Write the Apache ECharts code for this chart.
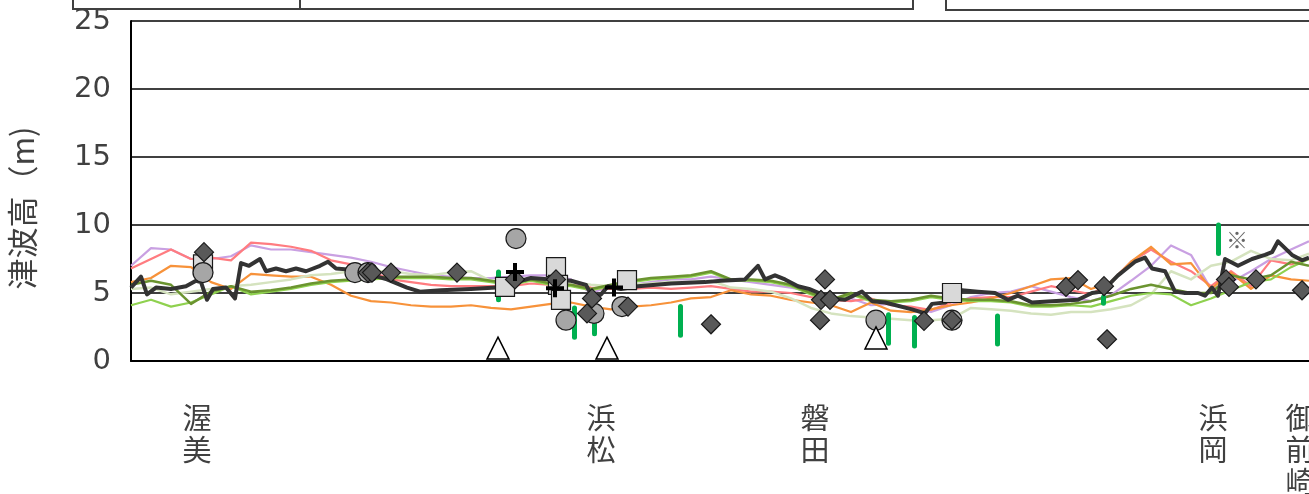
<!DOCTYPE html>
<html>
<head>
<meta charset="utf-8">
<script src="https://cdn.jsdelivr.net/npm/echarts@6/dist/echarts.min.js"></script>
<style>
  html, body { margin: 0; padding: 0; background: #fff; }
  #main { width: 1309px; height: 494px; }
</style>
</head>
<body>
<div id="main"></div>
<script>
  // 沿岸距離（左端からの位置）
  var dist = [0, 20, 40, 60, 80, 100, 120, 140, 160, 180, 200, 220, 240, 260, 280, 300, 320, 340, 360, 380,
    400, 420, 440, 460, 480, 500, 520, 540, 560, 580, 600, 620, 640, 660, 680, 700, 720, 740, 760, 780,
    800, 820, 840, 860, 880, 900, 920, 940, 960, 980, 1000, 1020, 1040, 1060, 1080, 1100, 1120, 1140, 1160, 1178];

  var purple = [7.0, 8.3, 8.2, 7.5, 7.5, 7.7, 8.5, 8.2, 8.2, 8.0, 7.8, 7.6, 7.3, 6.9, 6.6, 6.3, 6.2, 6.1, 6.1, 6.2,
    6.3, 6.3, 6.0, 5.0, 5.5, 5.6, 5.8, 6.0, 6.0, 6.2, 6.0, 5.8, 5.6, 5.4, 5.1, 4.7, 4.6, 4.1, 4.2, 3.9,
    3.6, 4.1, 4.7, 5.0, 5.1, 5.5, 5.1, 4.7, 4.4, 4.85, 5.9, 7.0, 8.5, 7.8, 5.3, 5.8, 6.6, 7.5, 8.2, 8.8];
  var salmon = [6.8, 7.5, 8.2, 7.5, 7.6, 7.4, 8.7, 8.6, 8.4, 8.1, 7.4, 7.1, 6.6, 6.0, 5.8, 5.6, 5.5, 5.5, 5.5, 5.5,
    5.7, 5.6, 5.6, 5.4, 5.3, 5.3, 5.4, 5.3, 5.4, 5.5, 5.3, 5.1, 5.1, 5.0, 4.7, 4.5, 4.4, 4.6, 4.1, 4.0,
    3.75, 4.3, 4.6, 4.7, 4.7, 5.1, 5.5, 5.2, 4.9, 5.8, 7.3, 8.2, 7.3, 6.6, 5.5, 6.6, 5.5, 7.4, 7.1, 7.5];
  var orange = [5.8, 6.1, 7.0, 6.9, 5.8, 5.3, 6.4, 6.3, 6.2, 6.2, 5.6, 4.8, 4.4, 4.3, 4.1, 4.0, 4.0, 4.1, 3.9, 3.8,
    4.0, 4.2, 4.3, 4.0, 3.8, 4.0, 4.1, 4.3, 4.6, 4.7, 5.2, 4.9, 4.8, 4.5, 4.3, 4.1, 3.6, 4.3, 3.7, 3.6,
    3.8, 4.1, 4.3, 4.6, 5.0, 5.5, 6.0, 6.1, 5.3, 5.8, 7.3, 8.4, 7.1, 7.2, 5.3, 6.5, 5.3, 6.3, 6.0, 5.9];
  var sage = [5.3, 5.4, 4.9, 5.1, 5.3, 5.5, 5.6, 5.8, 6.0, 6.3, 6.4, 6.6, 6.6, 6.6, 6.4, 6.3, 6.5, 6.6, 5.9, 5.9,
    5.9, 6.0, 5.8, 5.6, 5.5, 5.6, 5.7, 5.8, 5.8, 5.9, 5.4, 5.3, 5.1, 4.6, 3.9, 3.5, 3.3, 3.2, 3.1, 3.0,
    3.0, 3.1, 3.9, 3.8, 3.7, 3.5, 3.4, 3.6, 3.6, 3.8, 4.1, 4.9, 6.6, 6.0, 7.0, 7.3, 8.1, 7.5, 7.4, 7.9];
  var lime = [4.1, 4.5, 4.0, 4.3, 4.9, 5.5, 4.9, 5.1, 5.3, 5.6, 5.8, 5.9, 6.0, 6.1, 6.1, 6.1, 6.0, 6.0, 5.8, 5.6,
    5.9, 5.6, 5.5, 5.2, 5.5, 5.8, 6.0, 6.1, 6.2, 6.5, 5.9, 5.9, 5.8, 5.5, 4.9, 4.4, 4.9, 4.4, 4.3, 4.4,
    4.7, 4.5, 4.4, 4.4, 4.3, 4.0, 4.0, 4.1, 4.0, 4.4, 4.8, 5.0, 4.9, 4.1, 4.6, 5.2, 5.8, 6.0, 6.9, 7.5];
  var olive = [5.6, 5.9, 5.6, 4.2, 5.1, 5.5, 5.1, 5.2, 5.4, 5.7, 5.9, 6.0, 6.1, 6.2, 6.2, 6.2, 6.1, 6.1, 5.9, 5.7,
    6.0, 5.7, 5.6, 5.3, 5.6, 5.9, 6.1, 6.2, 6.3, 6.6, 6.0, 6.0, 5.9, 5.6, 5.0, 4.5, 5.0, 4.5, 4.4, 4.5,
    4.8, 4.6, 4.5, 4.5, 4.4, 4.1, 4.1, 4.2, 4.4, 4.8, 5.3, 5.6, 5.3, 5.0, 5.0, 6.3, 6.0, 6.3, 7.3, 7.0];

  // 太線（黒）は独自の位置で読み取り
  var blackDist = [0, 10, 16, 25, 40, 55, 65, 70, 76, 82, 95, 104, 110, 118, 129, 135, 145, 155, 165, 175,
    189, 197, 205, 222, 242, 256, 276, 289, 310, 340, 365, 380, 400, 420, 440, 455, 462, 470, 477, 490,
    507, 540, 574, 590, 614, 627, 634, 644, 654, 667, 678, 688, 700, 714, 731, 741, 754, 781, 794, 801,
    814, 831, 847, 864, 877, 887, 901, 921, 947, 961, 971, 987, 1004, 1014, 1021, 1034, 1044, 1054, 1067, 1074,
    1081, 1087, 1094, 1107, 1121, 1134, 1141, 1147, 1154, 1161, 1171, 1178];
  var black = [5.4, 6.2, 4.9, 5.4, 5.3, 5.5, 5.9, 5.8, 4.5, 5.3, 5.4, 4.6, 7.2, 7.0, 7.5, 6.6, 6.8, 6.6, 6.8, 6.6,
    7.0, 7.3, 6.8, 6.7, 6.3, 6.0, 5.4, 5.1, 5.2, 5.3, 5.4, 5.7, 6.1, 6.0, 5.9, 5.6, 4.6, 4.9, 5.5, 5.3,
    5.5, 5.7, 5.8, 5.9, 6.0, 7.0, 6.0, 6.3, 6.0, 5.5, 5.3, 5.0, 4.6, 4.5, 5.1, 4.4, 4.3, 3.8, 3.5, 4.2,
    4.3, 5.2, 5.1, 5.0, 4.5, 4.8, 4.3, 4.4, 4.5, 5.0, 5.1, 6.3, 7.3, 7.6, 6.8, 6.6, 5.1, 5.0, 5.0, 4.8,
    5.4, 4.8, 7.5, 7.0, 7.5, 7.8, 8.0, 8.8, 8.3, 7.8, 7.4, 7.6];

  // 痕跡高などの点
  var diamonds = [[73, 8.0], [237, 6.5], [241, 6.5], [260, 6.5], [326, 6.5], [384, 6.0], [425, 6.0], [461, 4.6],
    [456, 3.5], [497, 4.0], [580, 2.7], [694, 6.0], [690, 4.5], [699, 4.5], [689, 3.0], [793, 2.95], [821, 3.0],
    [935, 5.45], [947, 5.95], [973, 5.5], [976, 1.6], [1095, 6.0], [1098, 5.45], [1125, 6.0], [1171, 5.2]];
  var circles = [[72, 6.5], [224, 6.5], [237, 6.5], [385, 9.0], [435, 3.0], [463, 3.5], [491, 4.0], [745, 3.0], [821, 3.0]];
  var squares = [[72, 7.1], [374, 5.45], [425, 6.9], [427, 5.6], [430, 4.5], [496, 5.95], [821, 5.0]];
  var crosses = [[384, 6.55], [424, 5.35], [483, 5.4]];
  var triangles = [[367, 0.95], [476, 0.95], [745, 1.7]];
  // 範囲（位置, 上端, 下端）
  var ranges = [[367, 6.55, 4.5], [443, 3.9, 1.75], [463, 3.4, 2.0], [549, 4.0, 1.9], [757, 3.4, 1.3],
    [783, 3.2, 1.1], [866, 3.3, 1.25], [972, 4.7, 4.25], [1087, 10.0, 7.9]];
  var noteMark = [[1106, 8.9]];

  var placeNames = ['渥美', '浜松', '磐田', '浜岡', '御前崎'];
  var placePos = [66, 470, 684, 1082, 1169];

  function pairs(xs, ys) {
    return xs.map(function (x, i) { return [x, ys[i]]; });
  }

  function lineSeries(name, color, width, xs, ys, z) {
    return {
      name: name, type: 'line', data: pairs(xs, ys), symbol: 'none', z: z,
      lineStyle: {color: color, width: width, join: 'round'}
    };
  }

  function marker(color) {
    return {color: color, borderColor: '#1a1a1a', borderWidth: 1.2, opacity: 1};
  }

  var font = '"Noto Sans CJK JP", "Noto Sans", sans-serif';

  var myChart = echarts.init(document.getElementById('main'));
  var option = {
    animation: false,
    backgroundColor: '#fff',
    textStyle: {fontFamily: font},
    grid: {left: 131, right: 0, top: 21, bottom: 133, containLabel: false, outerBoundsMode: 'none'},
    graphic: [
      {type: 'rect', shape: {x: 73, y: -40, width: 840, height: 49}, style: {fill: 'none', stroke: '#404040', lineWidth: 2}},
      {type: 'line', shape: {x1: 300, y1: -40, x2: 300, y2: 9}, style: {stroke: '#404040', lineWidth: 2}},
      {type: 'rect', shape: {x: 946, y: -40, width: 400, height: 50}, style: {fill: 'none', stroke: '#404040', lineWidth: 2}}
    ],
    xAxis: {
      type: 'value', min: 0, max: 1178,
      axisLine: {show: true, lineStyle: {color: '#000', width: 2}},
      axisTick: {show: false},
      splitLine: {show: false},
      axisLabel: {
        customValues: placePos,
        margin: 41,
        fontSize: 29,
        lineHeight: 32,
        color: '#404040',
        fontFamily: font,
        formatter: function (v) {
          var i = placePos.indexOf(v);
          return i < 0 ? '' : placeNames[i].split('').join('\n');
        }
      }
    },
    yAxis: {
      type: 'value', min: 0, max: 25, interval: 5,
      name: '津波高（m)',
      nameLocation: 'middle',
      nameRotate: 90,
      nameGap: 93,
      nameTextStyle: {fontSize: 31, color: '#404040', fontFamily: font, padding: [0, 34, 0, 0]},
      axisLine: {show: true, lineStyle: {color: '#000', width: 2}},
      axisTick: {show: false},
      axisLabel: {fontSize: 29, color: '#404040', margin: 20, fontFamily: '"DejaVu Sans", sans-serif'},
      splitLine: {show: true, lineStyle: {color: '#000', width: 1.5}}
    },
    series: [
      lineSeries('ケース1', '#c9a0e2', 2.2, dist, purple, 2),
      lineSeries('ケース2', '#ff7c80', 2.2, dist, salmon, 2),
      lineSeries('ケース3', '#f7923a', 2.2, dist, orange, 2),
      lineSeries('ケース4', '#d5e3bf', 2.5, dist, sage, 2),
      lineSeries('ケース5', '#8fd14f', 2.2, dist, lime, 2),
      lineSeries('ケース6', '#6b9430', 2.5, dist, olive, 2),
      lineSeries('最大', '#333333', 4, blackDist, black, 3),
      {
        name: '範囲', type: 'lines', coordinateSystem: 'cartesian2d', z: 4,
        lineStyle: {color: '#00b050', width: 5, cap: 'round', opacity: 1},
        data: ranges.map(function (r) { return {coords: [[r[0], r[1]], [r[0], r[2]]]}; })
      },
      {
        name: '四角', type: 'scatter', data: squares, symbol: 'rect', symbolSize: 19, z: 5,
        itemStyle: marker('#d9d9d9')
      },
      {
        name: '丸', type: 'scatter', data: circles, symbol: 'circle', symbolSize: 20, z: 6,
        itemStyle: marker('#a6a6a6')
      },
      {
        name: 'ひし形', type: 'scatter', data: diamonds, symbol: 'diamond', symbolSize: 19, z: 7,
        itemStyle: marker('#595959')
      },
      {
        name: '十字', type: 'scatter', data: crosses, z: 8,
        symbol: 'path://M0,7 L7,7 L7,0 L11,0 L11,7 L18,7 L18,11 L11,11 L11,18 L7,18 L7,11 L0,11 Z',
        symbolSize: 18, itemStyle: {color: '#000', opacity: 1}
      },
      {
        name: '三角', type: 'scatter', data: triangles, symbol: 'triangle', symbolSize: 22, z: 8,
        itemStyle: {color: '#fff', borderColor: '#000', borderWidth: 1.5, opacity: 1}
      },
      {
        name: '注', type: 'scatter', data: noteMark, symbolSize: 1, z: 8,
        itemStyle: {color: 'rgba(0,0,0,0)'},
        label: {show: true, position: 'inside', formatter: '※', fontSize: 22, color: '#404040', fontFamily: font}
      }
    ]
  };
  myChart.setOption(option);
</script>
</body>
</html>
